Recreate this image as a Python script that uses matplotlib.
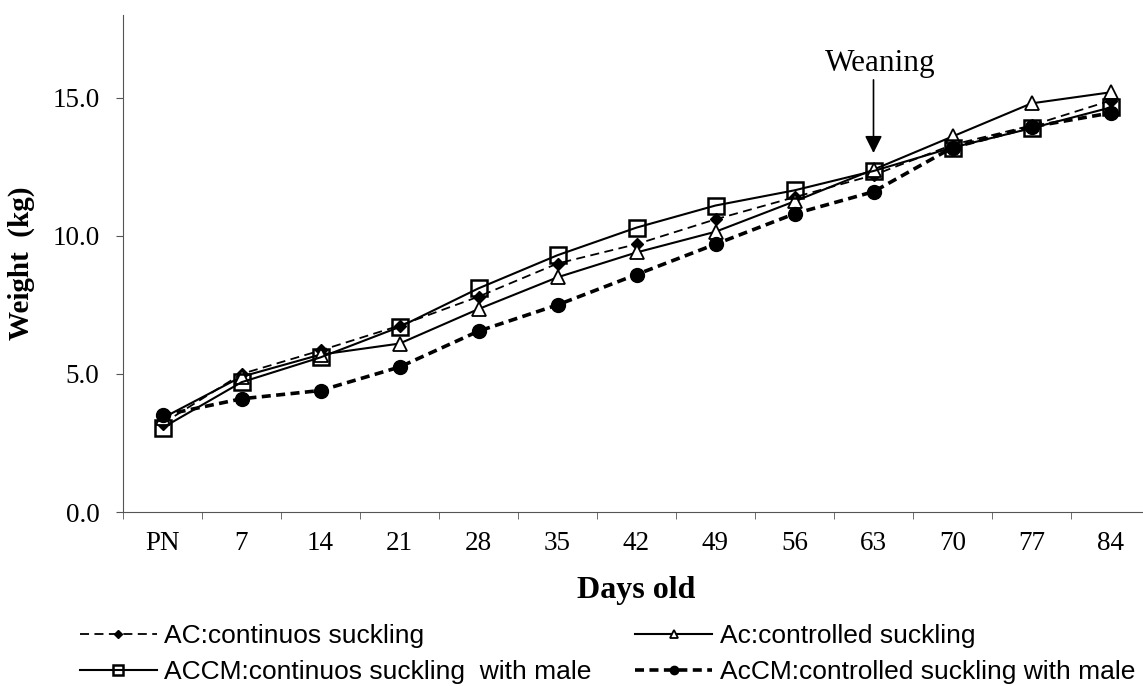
import matplotlib.pyplot as plt
import numpy as np

days = ["PN", "7", "14", "21", "28", "35", "42", "49", "56", "63", "70", "77", "84"]

ac_cont = [3.2, 5.0, 5.85, 6.75, 7.8, 9.0, 9.7, 10.6, 11.4, 12.2, 13.3, 14.0, 14.9]
ac_ctrl = [3.4, 4.9, 5.7, 6.1, 7.35, 8.5, 9.4, 10.15, 11.25, 12.4, 13.6, 14.8, 15.2]
accm_cont = [3.05, 4.7, 5.6, 6.7, 8.1, 9.3, 10.3, 11.1, 11.65, 12.35, 13.2, 13.9, 14.65]
accm_ctrl = [3.5, 4.1, 4.4, 5.25, 6.55, 7.5, 8.6, 9.7, 10.8, 11.6, 13.2, 13.95, 14.45]

labels = [
    "AC:continuos suckling",
    "Ac:controlled suckling",
    "ACCM:continuos suckling  with male",
    "AcCM:controlled suckling with male",
]

serif = ["Liberation Serif", "DejaVu Serif"]
sans = ["Liberation Sans", "DejaVu Sans"]

fig = plt.figure(figsize=(11.43, 6.86), dpi=100)
ax = fig.add_axes([123 / 1143, 174 / 686, 1027 / 1143, 497 / 686])

x = np.arange(len(days))
ink = "black"

l1, = ax.plot(x, ac_cont, color=ink, lw=1.3, ls=(0, (5, 3)), marker="D",
              ms=6.5, mfc=ink, mec=ink)
l2, = ax.plot(x, ac_ctrl, color=ink, lw=1.5, ls="-", marker="^",
              ms=10.5, mfc="white", mec=ink, mew=1.3)
l3, = ax.plot(x, accm_cont, color=ink, lw=1.5, ls="-", marker="s",
              ms=12, mfc="none", mec=ink, mew=1.8)
l4, = ax.plot(x, accm_ctrl, color=ink, lw=2.6, ls=(0, (2.5, 1.5)), marker="o",
              ms=10, mfc=ink, mec=ink)

ax.set_xlim(-0.5, len(days) - 0.5)
ax.set_ylim(0, 18)
ax.set_yticks([0, 5, 10, 15])
ax.set_yticklabels(["0.0", "5.0", "10.0", "15.0"], family=serif, fontsize=19.5)
ax.set_xticks(x)
ax.set_xticklabels(days, family=serif, fontsize=19.5)
ax.set_xticks(np.arange(-0.5, len(days)), minor=True)
ax.tick_params(axis="x", which="major", length=0, pad=14)
ax.tick_params(axis="x", which="minor", length=5, color="#555555")
ax.tick_params(axis="y", length=5, color="#555555", pad=12)

for side in ["top", "right"]:
    ax.spines[side].set_visible(False)
for side in ["left", "bottom"]:
    ax.spines[side].set_color("#555555")

ax.set_xlabel("Days old", family=serif, fontsize=23, fontweight="bold", labelpad=14)
ax.set_ylabel("Weight  (kg)", family=serif, fontsize=21, fontweight="bold", labelpad=12)

# weaning marker: vertical arrow at day 63 with its label above
ax.text(9.08, 16.25, "Weaning", ha="center", va="center", family=serif, fontsize=22.5)
ax.annotate("", xy=(9, 13.0), xytext=(9, 15.65),
            arrowprops=dict(arrowstyle="-|>", color=ink, lw=1.2, mutation_scale=26,
                            shrinkA=0, shrinkB=0))

# Excel-style legend fills rows first, matplotlib fills columns first
order = [0, 2, 1, 3]
handles = [l1, l2, l3, l4]
leg = fig.legend([handles[i] for i in order], [labels[i] for i in order],
                 loc="upper left", bbox_to_anchor=(80 / 1143, (686 - 624) / 686),
                 ncol=2, frameon=False, borderpad=0, borderaxespad=0,
                 prop={"family": sans, "size": 19}, handlelength=2.9,
                 columnspacing=1.65, handletextpad=0.3, labelspacing=0.45,
                 markerscale=0.6)

fig.savefig("out.png", dpi=100)
